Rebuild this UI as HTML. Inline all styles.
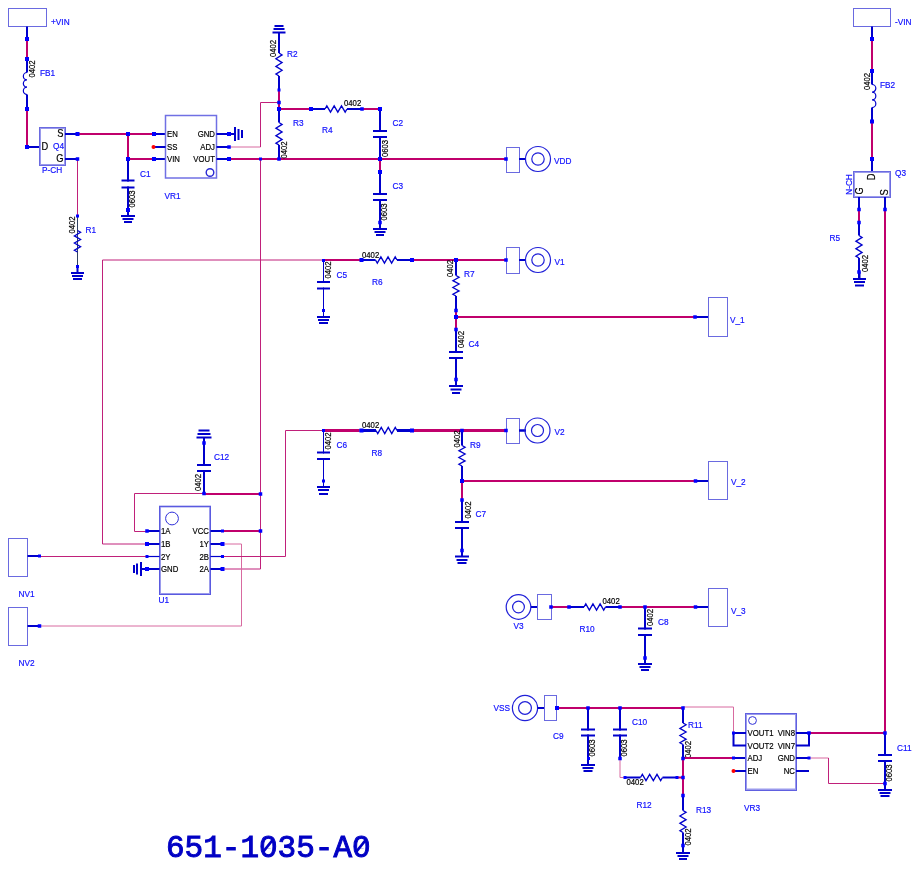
<!DOCTYPE html>
<html><head><meta charset="utf-8"><style>
html,body{margin:0;padding:0;background:#fff;width:920px;height:870px;overflow:hidden}
svg{display:block}

</style></head><body>
<svg width="920" height="870" viewBox="0 0 920 870">
<rect width="920" height="870" fill="#fff"/>
<g style="will-change:transform">
<rect x="8.5" y="8.5" width="38.0" height="18.0" fill="none" stroke="#6a6ae0" stroke-width="1"/>
<text x="0" y="0" font-size="9.40" fill="#1010ff" text-anchor="start" font-weight="normal" style="font-family:&quot;Liberation Sans&quot;" stroke="#1010ff" stroke-width="0.2" transform="translate(51 25) scale(0.88 1)">+VIN</text>
<line x1="27" y1="26.5" x2="27" y2="39" stroke="#0000cc" stroke-width="2"/>
<line x1="27" y1="39" x2="27" y2="59" stroke="#c0006c" stroke-width="2"/>
<line x1="27" y1="59" x2="27" y2="72.5" stroke="#0000cc" stroke-width="2"/>
<path d="M27,72.5 A3.6666666666666665,3.6666666666666665 0 0 0 27,79.83333333333333 A3.6666666666666665,3.6666666666666665 0 0 0 27,87.16666666666666 A3.6666666666666665,3.6666666666666665 0 0 0 27,94.5" fill="none" stroke="#0000cc" stroke-width="1.2"/>
<line x1="27" y1="94.5" x2="27" y2="109" stroke="#0000cc" stroke-width="2"/>
<line x1="27" y1="109" x2="27" y2="147" stroke="#c0006c" stroke-width="2"/>
<line x1="27" y1="147" x2="40" y2="147" stroke="#0000cc" stroke-width="2"/>
<text x="0" y="0" font-size="8.81" fill="#000000" text-anchor="middle" dominant-baseline="central" style="font-family:&quot;Liberation Sans&quot;" stroke="#000000" stroke-width="0.2" transform="translate(32 69) rotate(-90) scale(0.88 1)">0402</text>
<text x="0" y="0" font-size="9.40" fill="#1010ff" text-anchor="start" font-weight="normal" style="font-family:&quot;Liberation Sans&quot;" stroke="#1010ff" stroke-width="0.2" transform="translate(40 75.5) scale(0.88 1)">FB1</text>
<rect x="40" y="128" width="25" height="37" fill="none" stroke="#9a9aec" stroke-width="2"/>
<rect x="39.5" y="127.5" width="26.0" height="38.0" fill="none" stroke="#6a6ae0" stroke-width="1"/>
<text x="0" y="0" font-size="10.58" fill="#000000" text-anchor="end" font-weight="normal" style="font-family:&quot;Liberation Sans&quot;" stroke="#000000" stroke-width="0.2" transform="translate(63.5 137) scale(0.88 1)">S</text>
<text x="0" y="0" font-size="10.58" fill="#000000" text-anchor="start" font-weight="normal" style="font-family:&quot;Liberation Sans&quot;" stroke="#000000" stroke-width="0.2" transform="translate(41.5 149.5) scale(0.88 1)">D</text>
<text x="0" y="0" font-size="10.58" fill="#000000" text-anchor="end" font-weight="normal" style="font-family:&quot;Liberation Sans&quot;" stroke="#000000" stroke-width="0.2" transform="translate(63.5 162) scale(0.88 1)">G</text>
<text x="0" y="0" font-size="9.40" fill="#1010ff" text-anchor="start" font-weight="normal" style="font-family:&quot;Liberation Sans&quot;" stroke="#1010ff" stroke-width="0.2" transform="translate(53 149) scale(0.88 1)">Q4</text>
<text x="0" y="0" font-size="9.40" fill="#1010ff" text-anchor="start" font-weight="normal" style="font-family:&quot;Liberation Sans&quot;" stroke="#1010ff" stroke-width="0.2" transform="translate(42 172.5) scale(0.88 1)">P-CH</text>
<line x1="65" y1="134" x2="77.5" y2="134" stroke="#0000cc" stroke-width="2"/>
<line x1="77.5" y1="134" x2="154" y2="134" stroke="#c0006c" stroke-width="2"/>
<line x1="154" y1="134" x2="165.5" y2="134" stroke="#0000cc" stroke-width="2"/>
<line x1="65" y1="159" x2="77.5" y2="159" stroke="#0000cc" stroke-width="2"/>
<line x1="77.5" y1="159" x2="77.5" y2="216" stroke="#c0207a" stroke-width="1"/>
<line x1="77.5" y1="216" x2="77.5" y2="266.5" stroke="#304060" stroke-width="1"/>
<polyline points="77.5,230.5 80.6,232.29166666666666 74.4,235.875 80.6,239.45833333333331 74.4,243.04166666666666 80.6,246.625 74.4,250.20833333333331 77.5,252" fill="none" stroke="#0000cc" stroke-width="1.3"/>
<line x1="77.5" y1="266" x2="77.5" y2="273" stroke="#0000cc" stroke-width="2"/>
<line x1="71.0" y1="273" x2="84.0" y2="273" stroke="#0000cc" stroke-width="2"/>
<line x1="72.0" y1="276" x2="83.0" y2="276" stroke="#0000cc" stroke-width="2"/>
<line x1="73.0" y1="279" x2="82.0" y2="279" stroke="#0000cc" stroke-width="2"/>
<text x="0" y="0" font-size="8.81" fill="#000000" text-anchor="middle" dominant-baseline="central" style="font-family:&quot;Liberation Sans&quot;" stroke="#000000" stroke-width="0.2" transform="translate(71.5 225) rotate(-90) scale(0.88 1)">0402</text>
<text x="0" y="0" font-size="9.40" fill="#1010ff" text-anchor="start" font-weight="normal" style="font-family:&quot;Liberation Sans&quot;" stroke="#1010ff" stroke-width="0.2" transform="translate(85.5 233) scale(0.88 1)">R1</text>
<line x1="128" y1="134" x2="128" y2="159" stroke="#c0006c" stroke-width="2"/>
<line x1="128" y1="159" x2="154" y2="159" stroke="#c0006c" stroke-width="2"/>
<line x1="154" y1="159" x2="165.5" y2="159" stroke="#0000cc" stroke-width="2"/>
<line x1="128" y1="159" x2="128" y2="210" stroke="#0000cc" stroke-width="2"/>
<rect x="126" y="181.5" width="4" height="5.0" fill="#fff"/>
<line x1="121.5" y1="180.5" x2="134.5" y2="180.5" stroke="#0000cc" stroke-width="2"/>
<line x1="121.5" y1="187.5" x2="134.5" y2="187.5" stroke="#0000cc" stroke-width="2"/>
<line x1="128" y1="209" x2="128" y2="216" stroke="#0000cc" stroke-width="2"/>
<line x1="121" y1="216" x2="135" y2="216" stroke="#0000cc" stroke-width="2"/>
<line x1="122.5" y1="219" x2="133.5" y2="219" stroke="#0000cc" stroke-width="2"/>
<line x1="124" y1="222" x2="132" y2="222" stroke="#0000cc" stroke-width="2"/>
<text x="0" y="0" font-size="8.81" fill="#000000" text-anchor="middle" dominant-baseline="central" style="font-family:&quot;Liberation Sans&quot;" stroke="#000000" stroke-width="0.2" transform="translate(131.5 199) rotate(-90) scale(0.88 1)">0603</text>
<text x="0" y="0" font-size="9.40" fill="#1010ff" text-anchor="start" font-weight="normal" style="font-family:&quot;Liberation Sans&quot;" stroke="#1010ff" stroke-width="0.2" transform="translate(140 176.5) scale(0.88 1)">C1</text>
<rect x="165.5" y="115.5" width="51.0" height="62.5" fill="none" stroke="#7070e4" stroke-width="1.5"/>
<text x="0" y="0" font-size="9.40" fill="#000000" text-anchor="start" font-weight="normal" style="font-family:&quot;Liberation Sans&quot;" stroke="#000000" stroke-width="0.2" transform="translate(167 136.5) scale(0.83 1)">EN</text>
<text x="0" y="0" font-size="9.40" fill="#000000" text-anchor="start" font-weight="normal" style="font-family:&quot;Liberation Sans&quot;" stroke="#000000" stroke-width="0.2" transform="translate(167 149.5) scale(0.83 1)">SS</text>
<text x="0" y="0" font-size="9.40" fill="#000000" text-anchor="start" font-weight="normal" style="font-family:&quot;Liberation Sans&quot;" stroke="#000000" stroke-width="0.2" transform="translate(167 162) scale(0.83 1)">VIN</text>
<text x="0" y="0" font-size="9.40" fill="#000000" text-anchor="end" font-weight="normal" style="font-family:&quot;Liberation Sans&quot;" stroke="#000000" stroke-width="0.2" transform="translate(215 136.5) scale(0.83 1)">GND</text>
<text x="0" y="0" font-size="9.40" fill="#000000" text-anchor="end" font-weight="normal" style="font-family:&quot;Liberation Sans&quot;" stroke="#000000" stroke-width="0.2" transform="translate(215 149.5) scale(0.83 1)">ADJ</text>
<text x="0" y="0" font-size="9.40" fill="#000000" text-anchor="end" font-weight="normal" style="font-family:&quot;Liberation Sans&quot;" stroke="#000000" stroke-width="0.2" transform="translate(215 162) scale(0.83 1)">VOUT</text>
<line x1="154" y1="147" x2="165.5" y2="147" stroke="#0000cc" stroke-width="2"/>
<circle cx="153.5" cy="147" r="2" fill="#ff0000"/>
<circle cx="210" cy="172.5" r="3.8" fill="none" stroke="#2828d4" stroke-width="1.4"/>
<text x="0" y="0" font-size="9.40" fill="#1010ff" text-anchor="start" font-weight="normal" style="font-family:&quot;Liberation Sans&quot;" stroke="#1010ff" stroke-width="0.2" transform="translate(164.5 199) scale(0.88 1)">VR1</text>
<line x1="216.5" y1="134" x2="229" y2="134" stroke="#0000cc" stroke-width="2"/>
<line x1="235" y1="127" x2="235" y2="141" stroke="#0000cc" stroke-width="2"/>
<line x1="238.5" y1="129" x2="238.5" y2="140" stroke="#0000cc" stroke-width="2"/>
<line x1="242" y1="130" x2="242" y2="138" stroke="#0000cc" stroke-width="2"/>
<line x1="229" y1="134" x2="235" y2="134" stroke="#0000cc" stroke-width="2"/>
<line x1="216.5" y1="147" x2="229" y2="147" stroke="#0000cc" stroke-width="2"/>
<polyline points="229,147 260.5,147" fill="none" stroke="#d86aa0" stroke-width="1"/>
<polyline points="260.5,147 260.5,102.5 279,102.5" fill="none" stroke="#c0207a" stroke-width="1"/>
<line x1="216.5" y1="159" x2="229" y2="159" stroke="#0000cc" stroke-width="2"/>
<line x1="229" y1="159" x2="506" y2="159" stroke="#c0006c" stroke-width="2"/>
<line x1="274.5" y1="26" x2="283.5" y2="26" stroke="#0000cc" stroke-width="2"/>
<line x1="273.5" y1="29" x2="284.5" y2="29" stroke="#0000cc" stroke-width="2"/>
<line x1="272.5" y1="32.5" x2="285.5" y2="32.5" stroke="#0000cc" stroke-width="2"/>
<line x1="279" y1="32.5" x2="279" y2="53" stroke="#0000cc" stroke-width="2"/>
<polyline points="279,53 282.1,54.916666666666664 275.9,58.75 282.1,62.58333333333333 275.9,66.41666666666666 282.1,70.25 275.9,74.08333333333333 279,76" fill="none" stroke="#0000cc" stroke-width="1.3"/>
<line x1="279" y1="76" x2="279" y2="90" stroke="#0000cc" stroke-width="2"/>
<line x1="279" y1="90" x2="279" y2="109" stroke="#c0006c" stroke-width="2"/>
<line x1="279" y1="109" x2="279" y2="122.5" stroke="#0000cc" stroke-width="2"/>
<polyline points="279,122.5 282.1,124.375 275.9,128.125 282.1,131.875 275.9,135.625 282.1,139.375 275.9,143.125 279,145" fill="none" stroke="#0000cc" stroke-width="1.3"/>
<line x1="279" y1="145" x2="279" y2="159" stroke="#0000cc" stroke-width="2"/>
<text x="0" y="0" font-size="8.81" fill="#000000" text-anchor="middle" dominant-baseline="central" style="font-family:&quot;Liberation Sans&quot;" stroke="#000000" stroke-width="0.2" transform="translate(273 48.5) rotate(-90) scale(0.88 1)">0402</text>
<text x="0" y="0" font-size="9.40" fill="#1010ff" text-anchor="start" font-weight="normal" style="font-family:&quot;Liberation Sans&quot;" stroke="#1010ff" stroke-width="0.2" transform="translate(287 56.5) scale(0.88 1)">R2</text>
<text x="0" y="0" font-size="9.40" fill="#1010ff" text-anchor="start" font-weight="normal" style="font-family:&quot;Liberation Sans&quot;" stroke="#1010ff" stroke-width="0.2" transform="translate(293 125.5) scale(0.88 1)">R3</text>
<text x="0" y="0" font-size="8.81" fill="#000000" text-anchor="middle" dominant-baseline="central" style="font-family:&quot;Liberation Sans&quot;" stroke="#000000" stroke-width="0.2" transform="translate(283.5 150) rotate(-90) scale(0.88 1)">0402</text>
<line x1="279" y1="109" x2="311" y2="109" stroke="#c0006c" stroke-width="2"/>
<line x1="311" y1="109" x2="325" y2="109" stroke="#0000cc" stroke-width="2"/>
<polyline points="325,109 326.8333333333333,105.9 330.5,112.1 334.16666666666663,105.9 337.8333333333333,112.1 341.5,105.9 345.16666666666663,112.1 347,109" fill="none" stroke="#0000cc" stroke-width="1.3"/>
<line x1="347" y1="109" x2="362" y2="109" stroke="#0000cc" stroke-width="2"/>
<line x1="362" y1="109" x2="380" y2="109" stroke="#c0006c" stroke-width="2"/>
<text x="0" y="0" font-size="8.81" fill="#000000" text-anchor="start" font-weight="normal" style="font-family:&quot;Liberation Sans&quot;" stroke="#000000" stroke-width="0.2" transform="translate(344 106) scale(0.88 1)">0402</text>
<text x="0" y="0" font-size="9.40" fill="#1010ff" text-anchor="start" font-weight="normal" style="font-family:&quot;Liberation Sans&quot;" stroke="#1010ff" stroke-width="0.2" transform="translate(322 133) scale(0.88 1)">R4</text>
<line x1="380" y1="109" x2="380" y2="159" stroke="#0000cc" stroke-width="2"/>
<rect x="378" y="132" width="4" height="4" fill="#fff"/>
<line x1="373" y1="131" x2="387" y2="131" stroke="#0000cc" stroke-width="2"/>
<line x1="373" y1="137" x2="387" y2="137" stroke="#0000cc" stroke-width="2"/>
<text x="0" y="0" font-size="8.81" fill="#000000" text-anchor="middle" dominant-baseline="central" style="font-family:&quot;Liberation Sans&quot;" stroke="#000000" stroke-width="0.2" transform="translate(385 148.5) rotate(-90) scale(0.88 1)">0603</text>
<text x="0" y="0" font-size="9.40" fill="#1010ff" text-anchor="start" font-weight="normal" style="font-family:&quot;Liberation Sans&quot;" stroke="#1010ff" stroke-width="0.2" transform="translate(392.5 126) scale(0.88 1)">C2</text>
<line x1="380" y1="159" x2="380" y2="172" stroke="#c0006c" stroke-width="2"/>
<line x1="380" y1="172" x2="380" y2="222.5" stroke="#0000cc" stroke-width="2"/>
<rect x="378" y="195" width="4" height="4" fill="#fff"/>
<line x1="373" y1="194" x2="387" y2="194" stroke="#0000cc" stroke-width="2"/>
<line x1="373" y1="200" x2="387" y2="200" stroke="#0000cc" stroke-width="2"/>
<line x1="380" y1="222" x2="380" y2="229" stroke="#0000cc" stroke-width="2"/>
<line x1="373" y1="229" x2="387" y2="229" stroke="#0000cc" stroke-width="2"/>
<line x1="374.5" y1="232" x2="385.5" y2="232" stroke="#0000cc" stroke-width="2"/>
<line x1="376" y1="235" x2="384" y2="235" stroke="#0000cc" stroke-width="2"/>
<text x="0" y="0" font-size="8.81" fill="#000000" text-anchor="middle" dominant-baseline="central" style="font-family:&quot;Liberation Sans&quot;" stroke="#000000" stroke-width="0.2" transform="translate(384 212) rotate(-90) scale(0.88 1)">0603</text>
<text x="0" y="0" font-size="9.40" fill="#1010ff" text-anchor="start" font-weight="normal" style="font-family:&quot;Liberation Sans&quot;" stroke="#1010ff" stroke-width="0.2" transform="translate(392.5 189) scale(0.88 1)">C3</text>
<rect x="506.5" y="147.5" width="13.0" height="25.0" fill="none" stroke="#6a6ae0" stroke-width="1"/>
<line x1="519" y1="159" x2="526" y2="159" stroke="#0000cc" stroke-width="2"/>
<circle cx="538" cy="159" r="12.5" fill="none" stroke="#2020d8" stroke-width="1.2"/>
<circle cx="538" cy="159" r="6.2" fill="none" stroke="#2020d8" stroke-width="1.2"/>
<text x="0" y="0" font-size="9.40" fill="#1010ff" text-anchor="start" font-weight="normal" style="font-family:&quot;Liberation Sans&quot;" stroke="#1010ff" stroke-width="0.2" transform="translate(554 163.5) scale(0.88 1)">VDD</text>
<polyline points="323.5,260 102.5,260 102.5,544 147,544" fill="none" stroke="#c0207a" stroke-width="1"/>
<line x1="323.5" y1="260.5" x2="323.5" y2="310.5" stroke="#0000cc" stroke-width="1"/>
<rect x="321.5" y="283" width="4" height="4.5" fill="#fff"/>
<line x1="317.0" y1="282" x2="330.0" y2="282" stroke="#0000cc" stroke-width="2"/>
<line x1="317.0" y1="288.5" x2="330.0" y2="288.5" stroke="#0000cc" stroke-width="2"/>
<line x1="323.5" y1="310" x2="323.5" y2="317" stroke="#0000cc" stroke-width="1"/>
<line x1="317.0" y1="317" x2="330.0" y2="317" stroke="#0000cc" stroke-width="2"/>
<line x1="318.0" y1="320" x2="329.0" y2="320" stroke="#0000cc" stroke-width="2"/>
<line x1="319.0" y1="323" x2="328.0" y2="323" stroke="#0000cc" stroke-width="2"/>
<text x="0" y="0" font-size="8.81" fill="#000000" text-anchor="middle" dominant-baseline="central" style="font-family:&quot;Liberation Sans&quot;" stroke="#000000" stroke-width="0.2" transform="translate(327.5 270) rotate(-90) scale(0.88 1)">0402</text>
<text x="0" y="0" font-size="9.40" fill="#1010ff" text-anchor="start" font-weight="normal" style="font-family:&quot;Liberation Sans&quot;" stroke="#1010ff" stroke-width="0.2" transform="translate(336.5 277.5) scale(0.88 1)">C5</text>
<line x1="323.5" y1="260" x2="361.5" y2="260" stroke="#c0006c" stroke-width="2"/>
<line x1="361.5" y1="260" x2="375.5" y2="260" stroke="#0000cc" stroke-width="2"/>
<polyline points="375.5,260 377.2916666666667,263.1 380.875,256.9 384.45833333333337,263.1 388.0416666666667,256.9 391.625,263.1 395.20833333333337,256.9 397,260" fill="none" stroke="#0000cc" stroke-width="1.3"/>
<line x1="397" y1="260" x2="412" y2="260" stroke="#0000cc" stroke-width="2"/>
<line x1="412" y1="260" x2="506" y2="260" stroke="#c0006c" stroke-width="2"/>
<text x="0" y="0" font-size="8.81" fill="#000000" text-anchor="start" font-weight="normal" style="font-family:&quot;Liberation Sans&quot;" stroke="#000000" stroke-width="0.2" transform="translate(362 257.5) scale(0.88 1)">0402</text>
<text x="0" y="0" font-size="9.40" fill="#1010ff" text-anchor="start" font-weight="normal" style="font-family:&quot;Liberation Sans&quot;" stroke="#1010ff" stroke-width="0.2" transform="translate(372 285) scale(0.88 1)">R6</text>
<rect x="506.5" y="247.5" width="13.0" height="26.0" fill="none" stroke="#6a6ae0" stroke-width="1"/>
<line x1="519" y1="260" x2="526" y2="260" stroke="#0000cc" stroke-width="2"/>
<circle cx="538" cy="260" r="12.5" fill="none" stroke="#2020d8" stroke-width="1.2"/>
<circle cx="538" cy="260" r="6.2" fill="none" stroke="#2020d8" stroke-width="1.2"/>
<text x="0" y="0" font-size="9.40" fill="#1010ff" text-anchor="start" font-weight="normal" style="font-family:&quot;Liberation Sans&quot;" stroke="#1010ff" stroke-width="0.2" transform="translate(554.5 264.5) scale(0.88 1)">V1</text>
<line x1="456" y1="260" x2="456" y2="275.5" stroke="#0000cc" stroke-width="2"/>
<polyline points="456,275.5 459.1,277.2083333333333 452.9,280.625 459.1,284.04166666666663 452.9,287.4583333333333 459.1,290.875 452.9,294.29166666666663 456,296" fill="none" stroke="#0000cc" stroke-width="1.3"/>
<line x1="456" y1="296" x2="456" y2="310.5" stroke="#0000cc" stroke-width="2"/>
<line x1="456" y1="310.5" x2="456" y2="329.5" stroke="#c0006c" stroke-width="2"/>
<line x1="456" y1="329.5" x2="456" y2="379.5" stroke="#0000cc" stroke-width="2"/>
<rect x="454" y="353" width="4" height="4" fill="#fff"/>
<line x1="449" y1="352" x2="463" y2="352" stroke="#0000cc" stroke-width="2"/>
<line x1="449" y1="358" x2="463" y2="358" stroke="#0000cc" stroke-width="2"/>
<line x1="456" y1="379" x2="456" y2="386" stroke="#0000cc" stroke-width="2"/>
<line x1="449" y1="386" x2="463" y2="386" stroke="#0000cc" stroke-width="2"/>
<line x1="450.5" y1="389.5" x2="461.5" y2="389.5" stroke="#0000cc" stroke-width="2"/>
<line x1="452" y1="393" x2="460" y2="393" stroke="#0000cc" stroke-width="2"/>
<text x="0" y="0" font-size="8.81" fill="#000000" text-anchor="middle" dominant-baseline="central" style="font-family:&quot;Liberation Sans&quot;" stroke="#000000" stroke-width="0.2" transform="translate(450 268.5) rotate(-90) scale(0.88 1)">0402</text>
<text x="0" y="0" font-size="9.40" fill="#1010ff" text-anchor="start" font-weight="normal" style="font-family:&quot;Liberation Sans&quot;" stroke="#1010ff" stroke-width="0.2" transform="translate(464 277) scale(0.88 1)">R7</text>
<text x="0" y="0" font-size="8.81" fill="#000000" text-anchor="middle" dominant-baseline="central" style="font-family:&quot;Liberation Sans&quot;" stroke="#000000" stroke-width="0.2" transform="translate(460.5 339.5) rotate(-90) scale(0.88 1)">0402</text>
<text x="0" y="0" font-size="9.40" fill="#1010ff" text-anchor="start" font-weight="normal" style="font-family:&quot;Liberation Sans&quot;" stroke="#1010ff" stroke-width="0.2" transform="translate(468.5 347) scale(0.88 1)">C4</text>
<line x1="456" y1="317" x2="695" y2="317" stroke="#c0006c" stroke-width="2"/>
<line x1="695" y1="317" x2="708" y2="317" stroke="#0000cc" stroke-width="2"/>
<rect x="708.5" y="297.5" width="19.0" height="39.0" fill="none" stroke="#6a6ae0" stroke-width="1"/>
<text x="0" y="0" font-size="9.40" fill="#1010ff" text-anchor="start" font-weight="normal" style="font-family:&quot;Liberation Sans&quot;" stroke="#1010ff" stroke-width="0.2" transform="translate(730 322.5) scale(0.88 1)">V_1</text>
<rect x="853.5" y="8.5" width="37.0" height="18.0" fill="none" stroke="#6a6ae0" stroke-width="1"/>
<text x="0" y="0" font-size="9.40" fill="#1010ff" text-anchor="start" font-weight="normal" style="font-family:&quot;Liberation Sans&quot;" stroke="#1010ff" stroke-width="0.2" transform="translate(895 25) scale(0.88 1)">-VIN</text>
<line x1="872" y1="26.5" x2="872" y2="39" stroke="#0000cc" stroke-width="2"/>
<line x1="872" y1="39" x2="872" y2="71" stroke="#c0006c" stroke-width="2"/>
<line x1="872" y1="71" x2="872" y2="84.5" stroke="#0000cc" stroke-width="2"/>
<path d="M872,84.5 A3.8333333333333335,3.8333333333333335 0 0 1 872,92.16666666666667 A3.8333333333333335,3.8333333333333335 0 0 1 872,99.83333333333334 A3.8333333333333335,3.8333333333333335 0 0 1 872,107.5" fill="none" stroke="#0000cc" stroke-width="1.2"/>
<line x1="872" y1="107.5" x2="872" y2="121.5" stroke="#0000cc" stroke-width="2"/>
<line x1="872" y1="121.5" x2="872" y2="159" stroke="#c0006c" stroke-width="2"/>
<line x1="872" y1="159" x2="872" y2="172" stroke="#0000cc" stroke-width="2"/>
<text x="0" y="0" font-size="8.81" fill="#000000" text-anchor="middle" dominant-baseline="central" style="font-family:&quot;Liberation Sans&quot;" stroke="#000000" stroke-width="0.2" transform="translate(867 81.5) rotate(-90) scale(0.88 1)">0402</text>
<text x="0" y="0" font-size="9.40" fill="#1010ff" text-anchor="start" font-weight="normal" style="font-family:&quot;Liberation Sans&quot;" stroke="#1010ff" stroke-width="0.2" transform="translate(880 88) scale(0.88 1)">FB2</text>
<rect x="854" y="172" width="36" height="25" fill="none" stroke="#9a9aec" stroke-width="2"/>
<rect x="853.5" y="171.5" width="37.0" height="26.0" fill="none" stroke="#6a6ae0" stroke-width="1"/>
<text x="0" y="0" font-size="10.58" fill="#000000" text-anchor="middle" dominant-baseline="central" style="font-family:&quot;Liberation Sans&quot;" stroke="#000000" stroke-width="0.2" transform="translate(871.5 177) rotate(-90) scale(0.88 1)">D</text>
<text x="0" y="0" font-size="10.58" fill="#000000" text-anchor="middle" dominant-baseline="central" style="font-family:&quot;Liberation Sans&quot;" stroke="#000000" stroke-width="0.2" transform="translate(859.5 191) rotate(-90) scale(0.88 1)">G</text>
<text x="0" y="0" font-size="10.58" fill="#000000" text-anchor="middle" dominant-baseline="central" style="font-family:&quot;Liberation Sans&quot;" stroke="#000000" stroke-width="0.2" transform="translate(884.5 192.5) rotate(-90) scale(0.88 1)">S</text>
<text x="0" y="0" font-size="9.40" fill="#1010ff" text-anchor="middle" dominant-baseline="central" style="font-family:&quot;Liberation Sans&quot;" stroke="#1010ff" stroke-width="0.2" transform="translate(848.5 184.5) rotate(-90) scale(0.88 1)">N-CH</text>
<text x="0" y="0" font-size="9.40" fill="#1010ff" text-anchor="start" font-weight="normal" style="font-family:&quot;Liberation Sans&quot;" stroke="#1010ff" stroke-width="0.2" transform="translate(895 176) scale(0.88 1)">Q3</text>
<line x1="859" y1="197" x2="859" y2="209.5" stroke="#0000cc" stroke-width="2"/>
<line x1="859" y1="209.5" x2="859" y2="222.5" stroke="#c0006c" stroke-width="2"/>
<line x1="859" y1="222.5" x2="859" y2="235.5" stroke="#0000cc" stroke-width="2"/>
<polyline points="859,235.5 862.1,237.375 855.9,241.125 862.1,244.875 855.9,248.625 862.1,252.375 855.9,256.125 859,258" fill="none" stroke="#0000cc" stroke-width="1.3"/>
<line x1="859" y1="258" x2="859" y2="272" stroke="#0000cc" stroke-width="2"/>
<line x1="859" y1="272" x2="859" y2="278.5" stroke="#0000cc" stroke-width="2"/>
<line x1="859.5" y1="272" x2="859.5" y2="279" stroke="#0000cc" stroke-width="2"/>
<line x1="853.0" y1="279" x2="866.0" y2="279" stroke="#0000cc" stroke-width="2"/>
<line x1="854.0" y1="282" x2="865.0" y2="282" stroke="#0000cc" stroke-width="2"/>
<line x1="855.0" y1="285.5" x2="864.0" y2="285.5" stroke="#0000cc" stroke-width="2"/>
<text x="0" y="0" font-size="8.81" fill="#000000" text-anchor="middle" dominant-baseline="central" style="font-family:&quot;Liberation Sans&quot;" stroke="#000000" stroke-width="0.2" transform="translate(864.5 263.5) rotate(-90) scale(0.88 1)">0402</text>
<text x="0" y="0" font-size="9.40" fill="#1010ff" text-anchor="start" font-weight="normal" style="font-family:&quot;Liberation Sans&quot;" stroke="#1010ff" stroke-width="0.2" transform="translate(829.5 240.5) scale(0.88 1)">R5</text>
<line x1="885" y1="197" x2="885" y2="209.5" stroke="#0000cc" stroke-width="2"/>
<line x1="885" y1="209.5" x2="885" y2="733" stroke="#c0006c" stroke-width="2"/>
<line x1="198.5" y1="430.5" x2="209.5" y2="430.5" stroke="#0000cc" stroke-width="2"/>
<line x1="197.5" y1="434" x2="210.5" y2="434" stroke="#0000cc" stroke-width="2"/>
<line x1="196.5" y1="437.5" x2="211.5" y2="437.5" stroke="#0000cc" stroke-width="2"/>
<line x1="204" y1="437.5" x2="204" y2="493.5" stroke="#0000cc" stroke-width="2"/>
<rect x="202" y="466" width="4" height="4" fill="#fff"/>
<line x1="197" y1="465" x2="211" y2="465" stroke="#0000cc" stroke-width="2"/>
<line x1="197" y1="471" x2="211" y2="471" stroke="#0000cc" stroke-width="2"/>
<text x="0" y="0" font-size="9.40" fill="#1010ff" text-anchor="start" font-weight="normal" style="font-family:&quot;Liberation Sans&quot;" stroke="#1010ff" stroke-width="0.2" transform="translate(214 460) scale(0.88 1)">C12</text>
<text x="0" y="0" font-size="8.81" fill="#000000" text-anchor="middle" dominant-baseline="central" style="font-family:&quot;Liberation Sans&quot;" stroke="#000000" stroke-width="0.2" transform="translate(198 482.5) rotate(-90) scale(0.88 1)">0402</text>
<polyline points="147,531.5 134.5,531.5 134.5,493.5 204,493.5" fill="none" stroke="#c0207a" stroke-width="1"/>
<line x1="204" y1="494" x2="260.5" y2="494" stroke="#c0006c" stroke-width="2"/>
<rect x="160" y="506.5" width="50" height="87.5" fill="none" stroke="#9a9aec" stroke-width="2"/>
<rect x="159.5" y="506.5" width="51.0" height="88.0" fill="none" stroke="#5a5ae0" stroke-width="1"/>
<circle cx="172" cy="518.5" r="6.4" fill="none" stroke="#3030d8" stroke-width="1"/>
<line x1="147" y1="531" x2="159.5" y2="531" stroke="#0000cc" stroke-width="2"/>
<line x1="210.5" y1="531" x2="222.5" y2="531" stroke="#0000cc" stroke-width="2"/>
<text x="0" y="0" font-size="9.40" fill="#000000" text-anchor="start" font-weight="normal" style="font-family:&quot;Liberation Sans&quot;" stroke="#000000" stroke-width="0.2" transform="translate(161 534) scale(0.83 1)">1A</text>
<text x="0" y="0" font-size="9.40" fill="#000000" text-anchor="end" font-weight="normal" style="font-family:&quot;Liberation Sans&quot;" stroke="#000000" stroke-width="0.2" transform="translate(209 534) scale(0.83 1)">VCC</text>
<line x1="147" y1="544" x2="159.5" y2="544" stroke="#0000cc" stroke-width="2"/>
<line x1="210.5" y1="544" x2="222.5" y2="544" stroke="#0000cc" stroke-width="2"/>
<text x="0" y="0" font-size="9.40" fill="#000000" text-anchor="start" font-weight="normal" style="font-family:&quot;Liberation Sans&quot;" stroke="#000000" stroke-width="0.2" transform="translate(161 547) scale(0.83 1)">1B</text>
<text x="0" y="0" font-size="9.40" fill="#000000" text-anchor="end" font-weight="normal" style="font-family:&quot;Liberation Sans&quot;" stroke="#000000" stroke-width="0.2" transform="translate(209 547) scale(0.83 1)">1Y</text>
<line x1="147" y1="556.5" x2="159.5" y2="556.5" stroke="#0000cc" stroke-width="1.2"/>
<line x1="210.5" y1="556.5" x2="222.5" y2="556.5" stroke="#0000cc" stroke-width="1.2"/>
<text x="0" y="0" font-size="9.40" fill="#000000" text-anchor="start" font-weight="normal" style="font-family:&quot;Liberation Sans&quot;" stroke="#000000" stroke-width="0.2" transform="translate(161 559.5) scale(0.83 1)">2Y</text>
<text x="0" y="0" font-size="9.40" fill="#000000" text-anchor="end" font-weight="normal" style="font-family:&quot;Liberation Sans&quot;" stroke="#000000" stroke-width="0.2" transform="translate(209 559.5) scale(0.83 1)">2B</text>
<line x1="141" y1="569" x2="159.5" y2="569" stroke="#0000cc" stroke-width="2"/>
<line x1="210.5" y1="569" x2="222.5" y2="569" stroke="#0000cc" stroke-width="2"/>
<text x="0" y="0" font-size="9.40" fill="#000000" text-anchor="start" font-weight="normal" style="font-family:&quot;Liberation Sans&quot;" stroke="#000000" stroke-width="0.2" transform="translate(161 572) scale(0.83 1)">GND</text>
<text x="0" y="0" font-size="9.40" fill="#000000" text-anchor="end" font-weight="normal" style="font-family:&quot;Liberation Sans&quot;" stroke="#000000" stroke-width="0.2" transform="translate(209 572) scale(0.83 1)">2A</text>
<line x1="141" y1="562" x2="141" y2="576" stroke="#0000cc" stroke-width="2"/>
<line x1="137" y1="563.5" x2="137" y2="574.5" stroke="#0000cc" stroke-width="2"/>
<line x1="134" y1="565" x2="134" y2="573" stroke="#0000cc" stroke-width="2"/>
<text x="0" y="0" font-size="9.40" fill="#1010ff" text-anchor="start" font-weight="normal" style="font-family:&quot;Liberation Sans&quot;" stroke="#1010ff" stroke-width="0.2" transform="translate(158.5 603) scale(0.88 1)">U1</text>
<line x1="222.5" y1="531" x2="260.5" y2="531" stroke="#c0006c" stroke-width="2"/>
<polyline points="222.5,569 260.5,569 260.5,159" fill="none" stroke="#c0207a" stroke-width="1"/>
<polyline points="222.5,544 241.5,544 241.5,626 39.5,626" fill="none" stroke="#d86aa0" stroke-width="1"/>
<polyline points="222.5,556.5 285.5,556.5 285.5,430.5 323.5,430.5" fill="none" stroke="#c0207a" stroke-width="1"/>
<line x1="147" y1="556.5" x2="39.5" y2="556.5" stroke="#c0207a" stroke-width="1"/>
<rect x="8.5" y="538.5" width="19.0" height="38.0" fill="none" stroke="#6a6ae0" stroke-width="1"/>
<line x1="27.5" y1="556" x2="39.5" y2="556" stroke="#0000cc" stroke-width="2"/>
<text x="0" y="0" font-size="9.40" fill="#1010ff" text-anchor="start" font-weight="normal" style="font-family:&quot;Liberation Sans&quot;" stroke="#1010ff" stroke-width="0.2" transform="translate(18.5 597) scale(0.88 1)">NV1</text>
<rect x="8.5" y="607.5" width="19.0" height="38.0" fill="none" stroke="#6a6ae0" stroke-width="1"/>
<line x1="27.5" y1="626" x2="39.5" y2="626" stroke="#0000cc" stroke-width="2"/>
<text x="0" y="0" font-size="9.40" fill="#1010ff" text-anchor="start" font-weight="normal" style="font-family:&quot;Liberation Sans&quot;" stroke="#1010ff" stroke-width="0.2" transform="translate(18.5 666) scale(0.88 1)">NV2</text>
<line x1="323.5" y1="430.5" x2="323.5" y2="481" stroke="#0000cc" stroke-width="1"/>
<rect x="321.5" y="453.5" width="4" height="4.5" fill="#fff"/>
<line x1="317.0" y1="452.5" x2="330.0" y2="452.5" stroke="#0000cc" stroke-width="2"/>
<line x1="317.0" y1="459" x2="330.0" y2="459" stroke="#0000cc" stroke-width="2"/>
<line x1="323.5" y1="480" x2="323.5" y2="487" stroke="#0000cc" stroke-width="1"/>
<line x1="317.0" y1="487" x2="330.0" y2="487" stroke="#0000cc" stroke-width="2"/>
<line x1="318.0" y1="490" x2="329.0" y2="490" stroke="#0000cc" stroke-width="2"/>
<line x1="319.0" y1="494" x2="328.0" y2="494" stroke="#0000cc" stroke-width="2"/>
<text x="0" y="0" font-size="8.81" fill="#000000" text-anchor="middle" dominant-baseline="central" style="font-family:&quot;Liberation Sans&quot;" stroke="#000000" stroke-width="0.2" transform="translate(327.5 441) rotate(-90) scale(0.88 1)">0402</text>
<text x="0" y="0" font-size="9.40" fill="#1010ff" text-anchor="start" font-weight="normal" style="font-family:&quot;Liberation Sans&quot;" stroke="#1010ff" stroke-width="0.2" transform="translate(336.5 448) scale(0.88 1)">C6</text>
<line x1="323.5" y1="430.5" x2="359.5" y2="430.5" stroke="#c0006c" stroke-width="3"/>
<line x1="359.5" y1="430.5" x2="376" y2="430.5" stroke="#0000cc" stroke-width="3"/>
<polyline points="376,430.5 377.75,433.6 381.25,427.4 384.75,433.6 388.25,427.4 391.75,433.6 395.25,427.4 397,430.5" fill="none" stroke="#0000cc" stroke-width="1.3"/>
<line x1="397" y1="430.5" x2="414" y2="430.5" stroke="#0000cc" stroke-width="3"/>
<line x1="414" y1="430.5" x2="506" y2="430.5" stroke="#c0006c" stroke-width="3"/>
<text x="0" y="0" font-size="8.81" fill="#000000" text-anchor="start" font-weight="normal" style="font-family:&quot;Liberation Sans&quot;" stroke="#000000" stroke-width="0.2" transform="translate(362 427.5) scale(0.88 1)">0402</text>
<text x="0" y="0" font-size="9.40" fill="#1010ff" text-anchor="start" font-weight="normal" style="font-family:&quot;Liberation Sans&quot;" stroke="#1010ff" stroke-width="0.2" transform="translate(371.5 455.5) scale(0.88 1)">R8</text>
<rect x="506.5" y="418.5" width="13.0" height="25.0" fill="none" stroke="#6a6ae0" stroke-width="1"/>
<line x1="519" y1="430.5" x2="526" y2="430.5" stroke="#0000cc" stroke-width="2.5"/>
<circle cx="537.5" cy="430.5" r="12.5" fill="none" stroke="#2020d8" stroke-width="1.2"/>
<circle cx="537.5" cy="430.5" r="6.0" fill="none" stroke="#2020d8" stroke-width="1.2"/>
<text x="0" y="0" font-size="9.40" fill="#1010ff" text-anchor="start" font-weight="normal" style="font-family:&quot;Liberation Sans&quot;" stroke="#1010ff" stroke-width="0.2" transform="translate(554.5 435) scale(0.88 1)">V2</text>
<line x1="462" y1="430.5" x2="462" y2="445.5" stroke="#0000cc" stroke-width="2"/>
<polyline points="462,445.5 465.1,447.2083333333333 458.9,450.625 465.1,454.04166666666663 458.9,457.4583333333333 465.1,460.875 458.9,464.29166666666663 462,466" fill="none" stroke="#0000cc" stroke-width="1.3"/>
<line x1="462" y1="466" x2="462" y2="481" stroke="#0000cc" stroke-width="2"/>
<line x1="462" y1="481" x2="695.5" y2="481" stroke="#c0006c" stroke-width="2"/>
<line x1="695.5" y1="481" x2="708" y2="481" stroke="#0000cc" stroke-width="2"/>
<rect x="708.5" y="461.5" width="19.0" height="38.0" fill="none" stroke="#6a6ae0" stroke-width="1"/>
<text x="0" y="0" font-size="9.40" fill="#1010ff" text-anchor="start" font-weight="normal" style="font-family:&quot;Liberation Sans&quot;" stroke="#1010ff" stroke-width="0.2" transform="translate(731 485) scale(0.88 1)">V_2</text>
<line x1="462" y1="481" x2="462" y2="500" stroke="#c0006c" stroke-width="2"/>
<line x1="462" y1="500" x2="462" y2="550.5" stroke="#0000cc" stroke-width="2"/>
<rect x="460" y="523" width="4" height="4" fill="#fff"/>
<line x1="455" y1="522" x2="469" y2="522" stroke="#0000cc" stroke-width="2"/>
<line x1="455" y1="528" x2="469" y2="528" stroke="#0000cc" stroke-width="2"/>
<line x1="462" y1="549.5" x2="462" y2="556.5" stroke="#0000cc" stroke-width="2"/>
<line x1="455" y1="556.5" x2="469" y2="556.5" stroke="#0000cc" stroke-width="2"/>
<line x1="456.5" y1="560" x2="467.5" y2="560" stroke="#0000cc" stroke-width="2"/>
<line x1="457.5" y1="563" x2="466.5" y2="563" stroke="#0000cc" stroke-width="2"/>
<text x="0" y="0" font-size="8.81" fill="#000000" text-anchor="middle" dominant-baseline="central" style="font-family:&quot;Liberation Sans&quot;" stroke="#000000" stroke-width="0.2" transform="translate(457 439) rotate(-90) scale(0.88 1)">0402</text>
<text x="0" y="0" font-size="9.40" fill="#1010ff" text-anchor="start" font-weight="normal" style="font-family:&quot;Liberation Sans&quot;" stroke="#1010ff" stroke-width="0.2" transform="translate(470 448) scale(0.88 1)">R9</text>
<text x="0" y="0" font-size="8.81" fill="#000000" text-anchor="middle" dominant-baseline="central" style="font-family:&quot;Liberation Sans&quot;" stroke="#000000" stroke-width="0.2" transform="translate(467.5 510) rotate(-90) scale(0.88 1)">0402</text>
<text x="0" y="0" font-size="9.40" fill="#1010ff" text-anchor="start" font-weight="normal" style="font-family:&quot;Liberation Sans&quot;" stroke="#1010ff" stroke-width="0.2" transform="translate(475.5 517) scale(0.88 1)">C7</text>
<circle cx="518.5" cy="607" r="12.3" fill="none" stroke="#2020d8" stroke-width="1.2"/>
<circle cx="518.5" cy="607" r="5.9" fill="none" stroke="#2020d8" stroke-width="1.2"/>
<line x1="531" y1="607" x2="537.5" y2="607" stroke="#0000cc" stroke-width="2"/>
<rect x="537.5" y="594.5" width="14.0" height="25.0" fill="none" stroke="#6a6ae0" stroke-width="1"/>
<line x1="551" y1="607" x2="569" y2="607" stroke="#c0006c" stroke-width="2"/>
<line x1="569" y1="607" x2="584" y2="607" stroke="#0000cc" stroke-width="2"/>
<polyline points="584,607 585.7916666666666,603.9 589.375,610.1 592.9583333333333,603.9 596.5416666666666,610.1 600.125,603.9 603.7083333333333,610.1 605.5,607" fill="none" stroke="#0000cc" stroke-width="1.3"/>
<line x1="605.5" y1="607" x2="620" y2="607" stroke="#0000cc" stroke-width="2"/>
<line x1="620" y1="607" x2="695.5" y2="607" stroke="#c0006c" stroke-width="2"/>
<line x1="695.5" y1="607" x2="708" y2="607" stroke="#0000cc" stroke-width="2"/>
<rect x="708.5" y="588.5" width="19.0" height="38.0" fill="none" stroke="#6a6ae0" stroke-width="1"/>
<text x="0" y="0" font-size="9.40" fill="#1010ff" text-anchor="start" font-weight="normal" style="font-family:&quot;Liberation Sans&quot;" stroke="#1010ff" stroke-width="0.2" transform="translate(731 614) scale(0.88 1)">V_3</text>
<text x="0" y="0" font-size="9.40" fill="#1010ff" text-anchor="start" font-weight="normal" style="font-family:&quot;Liberation Sans&quot;" stroke="#1010ff" stroke-width="0.2" transform="translate(513.5 628.5) scale(0.88 1)">V3</text>
<text x="0" y="0" font-size="8.81" fill="#000000" text-anchor="start" font-weight="normal" style="font-family:&quot;Liberation Sans&quot;" stroke="#000000" stroke-width="0.2" transform="translate(602.5 604) scale(0.88 1)">0402</text>
<text x="0" y="0" font-size="9.40" fill="#1010ff" text-anchor="start" font-weight="normal" style="font-family:&quot;Liberation Sans&quot;" stroke="#1010ff" stroke-width="0.2" transform="translate(579.5 632) scale(0.88 1)">R10</text>
<line x1="645" y1="607" x2="645" y2="658" stroke="#0000cc" stroke-width="2"/>
<rect x="643" y="629.5" width="4" height="4.5" fill="#fff"/>
<line x1="638" y1="628.5" x2="652" y2="628.5" stroke="#0000cc" stroke-width="2"/>
<line x1="638" y1="635" x2="652" y2="635" stroke="#0000cc" stroke-width="2"/>
<line x1="645" y1="657" x2="645" y2="664" stroke="#0000cc" stroke-width="2"/>
<line x1="638" y1="664" x2="652" y2="664" stroke="#0000cc" stroke-width="2"/>
<line x1="639.5" y1="667" x2="650.5" y2="667" stroke="#0000cc" stroke-width="2"/>
<line x1="641" y1="670" x2="649" y2="670" stroke="#0000cc" stroke-width="2"/>
<text x="0" y="0" font-size="8.81" fill="#000000" text-anchor="middle" dominant-baseline="central" style="font-family:&quot;Liberation Sans&quot;" stroke="#000000" stroke-width="0.2" transform="translate(650 617.5) rotate(-90) scale(0.88 1)">0402</text>
<text x="0" y="0" font-size="9.40" fill="#1010ff" text-anchor="start" font-weight="normal" style="font-family:&quot;Liberation Sans&quot;" stroke="#1010ff" stroke-width="0.2" transform="translate(658 624.5) scale(0.88 1)">C8</text>
<circle cx="525" cy="708" r="12.6" fill="none" stroke="#2020d8" stroke-width="1.2"/>
<circle cx="525" cy="708" r="6.4" fill="none" stroke="#2020d8" stroke-width="1.2"/>
<line x1="537.5" y1="708" x2="544.5" y2="708" stroke="#0000cc" stroke-width="2"/>
<rect x="544.5" y="695.5" width="12.0" height="25.0" fill="none" stroke="#6a6ae0" stroke-width="1"/>
<text x="0" y="0" font-size="9.40" fill="#1010ff" text-anchor="start" font-weight="normal" style="font-family:&quot;Liberation Sans&quot;" stroke="#1010ff" stroke-width="0.2" transform="translate(493.5 711) scale(0.88 1)">VSS</text>
<line x1="557" y1="708" x2="683" y2="708" stroke="#c0006c" stroke-width="2"/>
<polyline points="683,707 733.5,707 733.5,733" fill="none" stroke="#d86aa0" stroke-width="1"/>
<line x1="588" y1="708" x2="588" y2="758" stroke="#0000cc" stroke-width="2"/>
<rect x="586" y="730.5" width="4" height="4.0" fill="#fff"/>
<line x1="581" y1="729.5" x2="595" y2="729.5" stroke="#0000cc" stroke-width="2"/>
<line x1="581" y1="735.5" x2="595" y2="735.5" stroke="#0000cc" stroke-width="2"/>
<line x1="588" y1="758" x2="588" y2="765" stroke="#0000cc" stroke-width="2"/>
<line x1="581" y1="765" x2="595" y2="765" stroke="#0000cc" stroke-width="2"/>
<line x1="582.5" y1="768" x2="593.5" y2="768" stroke="#0000cc" stroke-width="2"/>
<line x1="583.5" y1="771" x2="592.5" y2="771" stroke="#0000cc" stroke-width="2"/>
<text x="0" y="0" font-size="8.81" fill="#000000" text-anchor="middle" dominant-baseline="central" style="font-family:&quot;Liberation Sans&quot;" stroke="#000000" stroke-width="0.2" transform="translate(592 748) rotate(-90) scale(0.88 1)">0603</text>
<text x="0" y="0" font-size="9.40" fill="#1010ff" text-anchor="start" font-weight="normal" style="font-family:&quot;Liberation Sans&quot;" stroke="#1010ff" stroke-width="0.2" transform="translate(553 738.5) scale(0.88 1)">C9</text>
<line x1="620" y1="708" x2="620" y2="758.5" stroke="#0000cc" stroke-width="2"/>
<rect x="618" y="730.5" width="4" height="4.0" fill="#fff"/>
<line x1="613" y1="729.5" x2="627" y2="729.5" stroke="#0000cc" stroke-width="2"/>
<line x1="613" y1="735.5" x2="627" y2="735.5" stroke="#0000cc" stroke-width="2"/>
<polyline points="620,758.5 620,777.5 625,777.5" fill="none" stroke="#d86aa0" stroke-width="1"/>
<line x1="625" y1="777.5" x2="640.5" y2="777.5" stroke="#0000cc" stroke-width="2"/>
<polyline points="640.5,777.5 642.3333333333334,774.4 646.0,780.6 649.6666666666667,774.4 653.3333333333334,780.6 657.0,774.4 660.6666666666667,780.6 662.5,777.5" fill="none" stroke="#0000cc" stroke-width="1.3"/>
<line x1="662.5" y1="777.5" x2="677" y2="777.5" stroke="#0000cc" stroke-width="2"/>
<line x1="677" y1="777.5" x2="683" y2="777.5" stroke="#c0006c" stroke-width="2"/>
<text x="0" y="0" font-size="8.81" fill="#000000" text-anchor="middle" dominant-baseline="central" style="font-family:&quot;Liberation Sans&quot;" stroke="#000000" stroke-width="0.2" transform="translate(624 748) rotate(-90) scale(0.88 1)">0603</text>
<text x="0" y="0" font-size="9.40" fill="#1010ff" text-anchor="start" font-weight="normal" style="font-family:&quot;Liberation Sans&quot;" stroke="#1010ff" stroke-width="0.2" transform="translate(632 725) scale(0.88 1)">C10</text>
<line x1="683" y1="708" x2="683" y2="723" stroke="#0000cc" stroke-width="2"/>
<polyline points="683,723 686.1,724.7916666666666 679.9,728.375 686.1,731.9583333333333 679.9,735.5416666666666 686.1,739.125 679.9,742.7083333333333 683,744.5" fill="none" stroke="#0000cc" stroke-width="1.3"/>
<line x1="683" y1="744.5" x2="683" y2="758.5" stroke="#0000cc" stroke-width="2"/>
<line x1="683" y1="758.5" x2="683" y2="795.5" stroke="#c0006c" stroke-width="2"/>
<line x1="683" y1="795.5" x2="683" y2="810.5" stroke="#0000cc" stroke-width="2"/>
<polyline points="683,810.5 686.1,812.3333333333334 679.9,816.0 686.1,819.6666666666667 679.9,823.3333333333334 686.1,827.0 679.9,830.6666666666667 683,832.5" fill="none" stroke="#0000cc" stroke-width="1.3"/>
<line x1="683" y1="832.5" x2="683" y2="852" stroke="#0000cc" stroke-width="2"/>
<line x1="683" y1="846" x2="683" y2="853" stroke="#0000cc" stroke-width="2"/>
<line x1="676" y1="853" x2="690" y2="853" stroke="#0000cc" stroke-width="2"/>
<line x1="677.5" y1="856" x2="688.5" y2="856" stroke="#0000cc" stroke-width="2"/>
<line x1="679" y1="859" x2="687" y2="859" stroke="#0000cc" stroke-width="2"/>
<text x="0" y="0" font-size="9.40" fill="#1010ff" text-anchor="start" font-weight="normal" style="font-family:&quot;Liberation Sans&quot;" stroke="#1010ff" stroke-width="0.2" transform="translate(688 727.5) scale(0.88 1)">R11</text>
<text x="0" y="0" font-size="8.81" fill="#000000" text-anchor="middle" dominant-baseline="central" style="font-family:&quot;Liberation Sans&quot;" stroke="#000000" stroke-width="0.2" transform="translate(687.5 749.5) rotate(-90) scale(0.88 1)">0402</text>
<text x="0" y="0" font-size="8.81" fill="#000000" text-anchor="start" font-weight="normal" style="font-family:&quot;Liberation Sans&quot;" stroke="#000000" stroke-width="0.2" transform="translate(626.5 785) scale(0.88 1)">0402</text>
<text x="0" y="0" font-size="9.40" fill="#1010ff" text-anchor="start" font-weight="normal" style="font-family:&quot;Liberation Sans&quot;" stroke="#1010ff" stroke-width="0.2" transform="translate(636.5 807.5) scale(0.88 1)">R12</text>
<text x="0" y="0" font-size="9.40" fill="#1010ff" text-anchor="start" font-weight="normal" style="font-family:&quot;Liberation Sans&quot;" stroke="#1010ff" stroke-width="0.2" transform="translate(696 813) scale(0.88 1)">R13</text>
<text x="0" y="0" font-size="8.81" fill="#000000" text-anchor="middle" dominant-baseline="central" style="font-family:&quot;Liberation Sans&quot;" stroke="#000000" stroke-width="0.2" transform="translate(687.5 837) rotate(-90) scale(0.88 1)">0402</text>
<line x1="683" y1="758" x2="733.5" y2="758" stroke="#c0006c" stroke-width="2"/>
<line x1="733.5" y1="758" x2="746" y2="758" stroke="#0000cc" stroke-width="2"/>
<rect x="746" y="714" width="50" height="75.5" fill="none" stroke="#9a9aec" stroke-width="2"/>
<rect x="745.5" y="713.5" width="51.0" height="77.0" fill="none" stroke="#6060e0" stroke-width="1"/>
<circle cx="752.5" cy="720.5" r="3.9" fill="none" stroke="#3030d8" stroke-width="1"/>
<polyline points="746,733 733.5,733 733.5,745.5 746,745.5" fill="none" stroke="#0000cc" stroke-width="2"/>
<line x1="733.5" y1="771" x2="746" y2="771" stroke="#0000cc" stroke-width="2"/>
<circle cx="733.5" cy="771" r="2" fill="#ff0000"/>
<text x="0" y="0" font-size="9.40" fill="#000000" text-anchor="start" font-weight="normal" style="font-family:&quot;Liberation Sans&quot;" stroke="#000000" stroke-width="0.2" transform="translate(747.5 736) scale(0.83 1)">VOUT1</text>
<text x="0" y="0" font-size="9.40" fill="#000000" text-anchor="end" font-weight="normal" style="font-family:&quot;Liberation Sans&quot;" stroke="#000000" stroke-width="0.2" transform="translate(795 736) scale(0.83 1)">VIN8</text>
<text x="0" y="0" font-size="9.40" fill="#000000" text-anchor="start" font-weight="normal" style="font-family:&quot;Liberation Sans&quot;" stroke="#000000" stroke-width="0.2" transform="translate(747.5 748.5) scale(0.83 1)">VOUT2</text>
<text x="0" y="0" font-size="9.40" fill="#000000" text-anchor="end" font-weight="normal" style="font-family:&quot;Liberation Sans&quot;" stroke="#000000" stroke-width="0.2" transform="translate(795 748.5) scale(0.83 1)">VIN7</text>
<text x="0" y="0" font-size="9.40" fill="#000000" text-anchor="start" font-weight="normal" style="font-family:&quot;Liberation Sans&quot;" stroke="#000000" stroke-width="0.2" transform="translate(747.5 761) scale(0.83 1)">ADJ</text>
<text x="0" y="0" font-size="9.40" fill="#000000" text-anchor="end" font-weight="normal" style="font-family:&quot;Liberation Sans&quot;" stroke="#000000" stroke-width="0.2" transform="translate(795 761) scale(0.83 1)">GND</text>
<text x="0" y="0" font-size="9.40" fill="#000000" text-anchor="start" font-weight="normal" style="font-family:&quot;Liberation Sans&quot;" stroke="#000000" stroke-width="0.2" transform="translate(747.5 774) scale(0.83 1)">EN</text>
<text x="0" y="0" font-size="9.40" fill="#000000" text-anchor="end" font-weight="normal" style="font-family:&quot;Liberation Sans&quot;" stroke="#000000" stroke-width="0.2" transform="translate(795 774) scale(0.83 1)">NC</text>
<polyline points="796,733 809,733 809,745.5 796,745.5" fill="none" stroke="#0000cc" stroke-width="2"/>
<line x1="809" y1="733" x2="885" y2="733" stroke="#c0006c" stroke-width="2"/>
<line x1="796" y1="758" x2="809" y2="758" stroke="#0000cc" stroke-width="2"/>
<polyline points="809,758 828.5,758" fill="none" stroke="#d86aa0" stroke-width="1"/>
<polyline points="828.5,758 828.5,783.5 885,783.5" fill="none" stroke="#c0207a" stroke-width="1"/>
<line x1="796" y1="771" x2="809" y2="771" stroke="#0000cc" stroke-width="2"/>
<text x="0" y="0" font-size="9.40" fill="#1010ff" text-anchor="start" font-weight="normal" style="font-family:&quot;Liberation Sans&quot;" stroke="#1010ff" stroke-width="0.2" transform="translate(744 811) scale(0.88 1)">VR3</text>
<line x1="885" y1="733" x2="885" y2="790" stroke="#0000cc" stroke-width="2"/>
<rect x="883" y="756" width="4" height="4" fill="#fff"/>
<line x1="878" y1="755" x2="892" y2="755" stroke="#0000cc" stroke-width="2"/>
<line x1="878" y1="761" x2="892" y2="761" stroke="#0000cc" stroke-width="2"/>
<line x1="885" y1="783" x2="885" y2="790" stroke="#0000cc" stroke-width="2"/>
<line x1="878" y1="790" x2="892" y2="790" stroke="#0000cc" stroke-width="2"/>
<line x1="879.5" y1="793" x2="890.5" y2="793" stroke="#0000cc" stroke-width="2"/>
<line x1="880.5" y1="796" x2="889.5" y2="796" stroke="#0000cc" stroke-width="2"/>
<text x="0" y="0" font-size="9.40" fill="#1010ff" text-anchor="start" font-weight="normal" style="font-family:&quot;Liberation Sans&quot;" stroke="#1010ff" stroke-width="0.2" transform="translate(897 750.5) scale(0.88 1)">C11</text>
<text x="0" y="0" font-size="8.81" fill="#000000" text-anchor="middle" dominant-baseline="central" style="font-family:&quot;Liberation Sans&quot;" stroke="#000000" stroke-width="0.2" transform="translate(889 773) rotate(-90) scale(0.88 1)">0603</text>
<text x="0" y="0" font-size="32" fill="#0000c4" stroke="#0000c4" stroke-width="1.0" font-weight="normal" style="font-family:&quot;Liberation Mono&quot;" transform="translate(166 857) scale(0.969 1)">651-1035-A0</text>
<rect x="265.5" y="842.5" width="5.5" height="6" fill="#fff"/>
<line x1="263" y1="852" x2="273" y2="839.5" stroke="#0000c4" stroke-width="2.8"/>
<rect x="358.6" y="842.5" width="5.5" height="6" fill="#fff"/>
<line x1="356.1" y1="852" x2="366.1" y2="839.5" stroke="#0000c4" stroke-width="2.8"/>
<rect x="25.0" y="37.0" width="4" height="4" fill="#0000ff"/>
<rect x="25.0" y="57.0" width="4" height="4" fill="#0000ff"/>
<rect x="25.0" y="107.0" width="4" height="4" fill="#0000ff"/>
<rect x="25.0" y="145.0" width="4" height="4" fill="#0000ff"/>
<rect x="75.5" y="132.0" width="4" height="4" fill="#0000ff"/>
<rect x="126.0" y="132.0" width="4" height="4" fill="#0000ff"/>
<rect x="152.0" y="132.0" width="4" height="4" fill="#0000ff"/>
<rect x="75.75" y="157.25" width="3.5" height="3.5" fill="#0000ff"/>
<rect x="76.0" y="214.5" width="3" height="3" fill="#0000ff"/>
<rect x="76.0" y="265.0" width="3" height="3" fill="#0000ff"/>
<rect x="126.0" y="157.0" width="4" height="4" fill="#0000ff"/>
<rect x="152.0" y="157.0" width="4" height="4" fill="#0000ff"/>
<rect x="126.0" y="208.0" width="4" height="4" fill="#0000ff"/>
<rect x="227.0" y="132.0" width="4" height="4" fill="#0000ff"/>
<rect x="227.25" y="145.25" width="3.5" height="3.5" fill="#0000ff"/>
<rect x="227.0" y="157.0" width="4" height="4" fill="#0000ff"/>
<rect x="259.0" y="157.5" width="3" height="3" fill="#0000ff"/>
<rect x="277.25" y="157.25" width="3.5" height="3.5" fill="#0000ff"/>
<rect x="378.0" y="157.0" width="4" height="4" fill="#0000ff"/>
<rect x="504.25" y="157.25" width="3.5" height="3.5" fill="#0000ff"/>
<rect x="277.5" y="88.5" width="3" height="3" fill="#0000ff"/>
<rect x="277.25" y="100.75" width="3.5" height="3.5" fill="#0000ff"/>
<rect x="277.0" y="107.0" width="4" height="4" fill="#0000ff"/>
<rect x="309.0" y="107.0" width="4" height="4" fill="#0000ff"/>
<rect x="360.25" y="107.25" width="3.5" height="3.5" fill="#0000ff"/>
<rect x="378.0" y="107.0" width="4" height="4" fill="#0000ff"/>
<rect x="378.0" y="170.0" width="4" height="4" fill="#0000ff"/>
<rect x="378.25" y="220.75" width="3.5" height="3.5" fill="#0000ff"/>
<rect x="322.0" y="259.0" width="3" height="3" fill="#0000ff"/>
<rect x="322.0" y="309.0" width="3" height="3" fill="#0000ff"/>
<rect x="359.5" y="258.0" width="4" height="4" fill="#0000ff"/>
<rect x="410.0" y="258.0" width="4" height="4" fill="#0000ff"/>
<rect x="454.0" y="258.0" width="4" height="4" fill="#0000ff"/>
<rect x="504.25" y="258.25" width="3.5" height="3.5" fill="#0000ff"/>
<rect x="454.25" y="308.75" width="3.5" height="3.5" fill="#0000ff"/>
<rect x="454.0" y="315.0" width="4" height="4" fill="#0000ff"/>
<rect x="454.25" y="327.75" width="3.5" height="3.5" fill="#0000ff"/>
<rect x="454.25" y="377.75" width="3.5" height="3.5" fill="#0000ff"/>
<rect x="693.25" y="315.25" width="3.5" height="3.5" fill="#0000ff"/>
<rect x="870.0" y="37.0" width="4" height="4" fill="#0000ff"/>
<rect x="870.0" y="69.0" width="4" height="4" fill="#0000ff"/>
<rect x="870.0" y="119.5" width="4" height="4" fill="#0000ff"/>
<rect x="870.0" y="157.0" width="4" height="4" fill="#0000ff"/>
<rect x="857.25" y="207.75" width="3.5" height="3.5" fill="#0000ff"/>
<rect x="857.25" y="220.75" width="3.5" height="3.5" fill="#0000ff"/>
<rect x="857.25" y="270.25" width="3.5" height="3.5" fill="#0000ff"/>
<rect x="883.25" y="207.75" width="3.5" height="3.5" fill="#0000ff"/>
<rect x="202.25" y="441.25" width="3.5" height="3.5" fill="#0000ff"/>
<rect x="202.25" y="491.75" width="3.5" height="3.5" fill="#0000ff"/>
<rect x="258.75" y="492.25" width="3.5" height="3.5" fill="#0000ff"/>
<rect x="145.25" y="529.25" width="3.5" height="3.5" fill="#0000ff"/>
<rect x="221.0" y="529.5" width="3" height="3" fill="#0000ff"/>
<rect x="145.0" y="542.0" width="4" height="4" fill="#0000ff"/>
<rect x="220.5" y="542.0" width="4" height="4" fill="#0000ff"/>
<rect x="145.5" y="555.0" width="3" height="3" fill="#0000ff"/>
<rect x="221.0" y="555.0" width="3" height="3" fill="#0000ff"/>
<rect x="145.0" y="567.0" width="4" height="4" fill="#0000ff"/>
<rect x="220.5" y="567.0" width="4" height="4" fill="#0000ff"/>
<rect x="258.75" y="529.25" width="3.5" height="3.5" fill="#0000ff"/>
<rect x="38.0" y="554.5" width="3" height="3" fill="#0000ff"/>
<rect x="37.75" y="624.25" width="3.5" height="3.5" fill="#0000ff"/>
<rect x="322.0" y="429.0" width="3" height="3" fill="#0000ff"/>
<rect x="322.0" y="479.5" width="3" height="3" fill="#0000ff"/>
<rect x="359.5" y="428.5" width="4" height="4" fill="#0000ff"/>
<rect x="410.0" y="428.5" width="4" height="4" fill="#0000ff"/>
<rect x="460.25" y="428.75" width="3.5" height="3.5" fill="#0000ff"/>
<rect x="504.25" y="428.75" width="3.5" height="3.5" fill="#0000ff"/>
<rect x="460.0" y="479.0" width="4" height="4" fill="#0000ff"/>
<rect x="693.75" y="479.25" width="3.5" height="3.5" fill="#0000ff"/>
<rect x="460.25" y="498.25" width="3.5" height="3.5" fill="#0000ff"/>
<rect x="460.25" y="548.75" width="3.5" height="3.5" fill="#0000ff"/>
<rect x="549.25" y="605.25" width="3.5" height="3.5" fill="#0000ff"/>
<rect x="567.25" y="605.25" width="3.5" height="3.5" fill="#0000ff"/>
<rect x="618.25" y="605.25" width="3.5" height="3.5" fill="#0000ff"/>
<rect x="643.25" y="605.25" width="3.5" height="3.5" fill="#0000ff"/>
<rect x="693.75" y="605.25" width="3.5" height="3.5" fill="#0000ff"/>
<rect x="643.25" y="656.25" width="3.5" height="3.5" fill="#0000ff"/>
<rect x="555.0" y="706.0" width="4" height="4" fill="#0000ff"/>
<rect x="586.25" y="706.25" width="3.5" height="3.5" fill="#0000ff"/>
<rect x="618.25" y="706.25" width="3.5" height="3.5" fill="#0000ff"/>
<rect x="681.25" y="706.25" width="3.5" height="3.5" fill="#0000ff"/>
<rect x="587.0" y="757.0" width="3" height="3" fill="#0000ff"/>
<rect x="618.25" y="756.75" width="3.5" height="3.5" fill="#0000ff"/>
<rect x="623.5" y="776.0" width="3" height="3" fill="#0000ff"/>
<rect x="675.5" y="776.0" width="3" height="3" fill="#0000ff"/>
<rect x="681.25" y="756.75" width="3.5" height="3.5" fill="#0000ff"/>
<rect x="681.25" y="775.75" width="3.5" height="3.5" fill="#0000ff"/>
<rect x="681.25" y="793.75" width="3.5" height="3.5" fill="#0000ff"/>
<rect x="681.25" y="843.75" width="3.5" height="3.5" fill="#0000ff"/>
<rect x="732.0" y="756.5" width="3" height="3" fill="#0000ff"/>
<rect x="732.0" y="731.5" width="3" height="3" fill="#0000ff"/>
<rect x="807.25" y="731.25" width="3.5" height="3.5" fill="#0000ff"/>
<rect x="883.25" y="731.25" width="3.5" height="3.5" fill="#0000ff"/>
<rect x="807.5" y="756.5" width="3" height="3" fill="#0000ff"/>
<rect x="883.25" y="781.75" width="3.5" height="3.5" fill="#0000ff"/>
</g>
</svg></body></html>
